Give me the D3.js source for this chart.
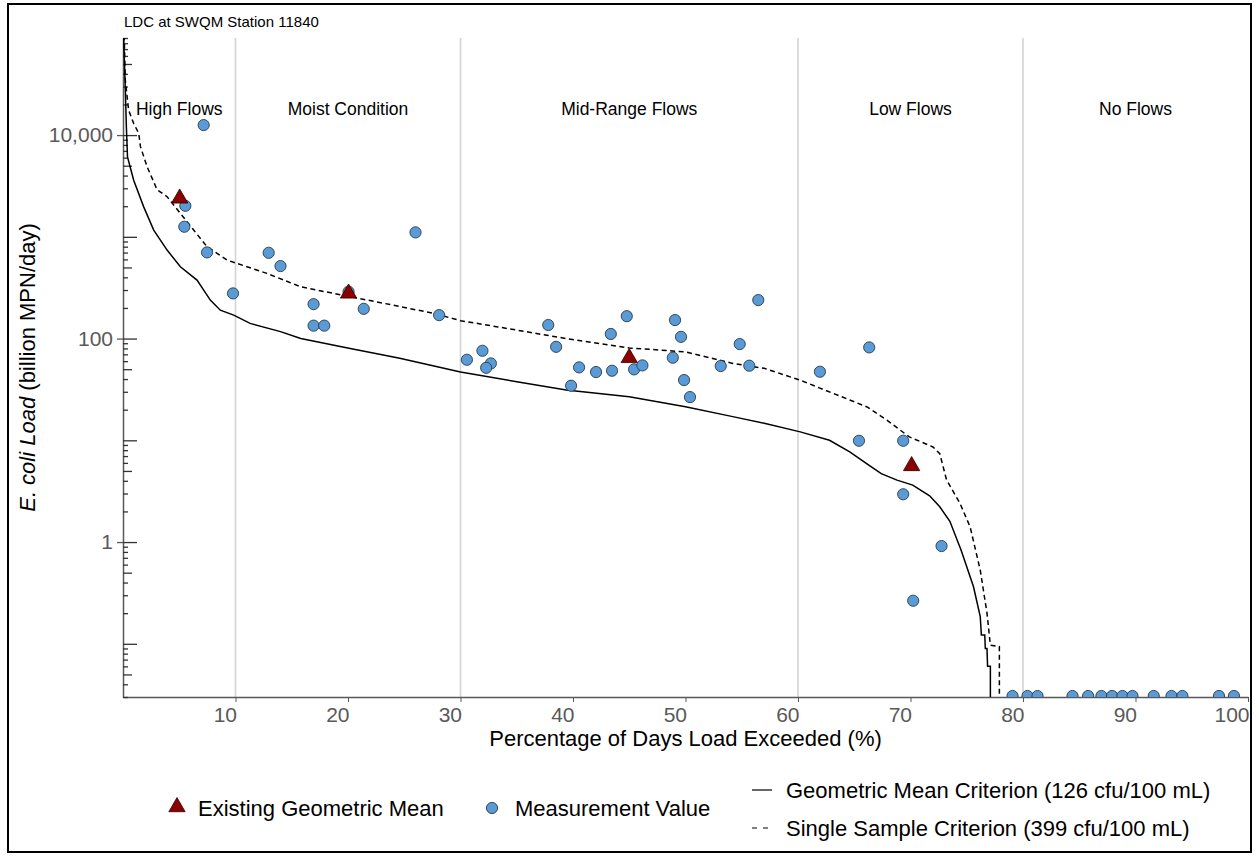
<!DOCTYPE html>
<html>
<head>
<meta charset="utf-8">
<script src="https://cdn.jsdelivr.net/npm/d3@7"></script>
<style>
body { margin: 0; background: #fff; }
text { font-family: "Liberation Sans", Arial, sans-serif; }
</style>
</head>
<body>
<div id="cont"></div>
<script>
// Data: [percent of days exceeded, load in billion MPN/day]
var geoMeanCurve = [
    [0.02, 120000], [0.2, 30000], [0.3, 12000], [0.4, 6100], [0.95, 3600], [1.84, 1970],
    [2.73, 1165], [3.92, 741], [5.1, 508], [6.58, 376], [7.76, 239], [8.65, 190],
    [9.84, 170], [11.3, 141], [14.0, 117], [15.8, 100], [20.2, 80], [24.6, 64],
    [30, 47], [35, 37.6], [39.4, 31.2], [45, 26.8], [50, 21.4], [54.2, 17.1],
    [57, 14.7], [60.2, 12.1], [62.8, 10], [64.6, 7.7], [66.1, 5.9], [67.4, 4.7],
    [68.8, 4.06], [70.2, 3.63], [71.7, 2.85], [72.6, 2.22], [73.5, 1.6], [74.5, 0.83],
    [75.0, 0.571], [75.6, 0.364], [76.2, 0.185], [76.3, 0.122], [76.6, 0.122],
    [76.65, 0.09], [76.8, 0.09], [76.85, 0.06], [77.1, 0.06], [77.1, 0]
];
var singleSampleCurve = [
    [0.02, 250000], [0.2, 35000], [0.5, 17600], [0.95, 13000], [1.4, 10400], [1.55, 7700],
    [2.14, 4900], [3.03, 2900], [3.92, 2480], [5.1, 1700], [6.28, 1165], [7.47, 800],
    [9.25, 590], [12.8, 437], [15.8, 323], [18.7, 278], [23.2, 222], [27.6, 177],
    [30, 150], [33.2, 131], [39.4, 100], [45, 81], [50, 74], [54.2, 57], [57, 51],
    [60.2, 39], [63.1, 29], [66.1, 21.4], [67.9, 15.8], [69.9, 10.8], [72.0, 8.6],
    [72.6, 7.4], [73.2, 4.1], [74.4, 2.4], [75.3, 1.41], [76.2, 0.53], [76.8, 0.2],
    [77.1, 0.097], [77.9, 0.094], [77.9, 0]
];
var measurements = [
    [5.54, 2018], [5.45, 1256], [7.17, 12540], [7.47, 703], [9.78, 278], [12.95, 697],
    [14.0, 516], [16.94, 218], [16.94, 134], [17.89, 134], [20.05, 289], [21.4, 196],
    [26.0, 1106], [28.1, 170], [30.57, 61.9], [31.95, 75.9], [32.7, 57], [32.28, 51.6],
    [37.8, 136], [38.5, 83], [39.83, 34.4], [40.54, 52.1], [42.05, 46.9], [43.36, 111],
    [43.47, 48.3], [44.78, 166], [45.43, 49.8], [46.17, 54.5], [48.87, 64.9], [49.07, 152],
    [49.6, 104], [49.87, 39.1], [50.4, 26.6], [53.13, 53.7], [54.82, 88.3], [55.67, 54.1],
    [56.47, 239], [61.95, 47.2], [66.33, 81.9], [65.42, 9.9], [69.35, 9.9], [69.35, 2.95],
    [72.76, 0.914], [70.24, 0.265],
    [79.07, 0], [80.4, 0], [81.29, 0], [84.4, 0], [85.79, 0], [86.97, 0], [87.92, 0],
    [88.84, 0], [89.73, 0], [91.62, 0], [93.2, 0], [94.17, 0], [97.42, 0], [98.75, 0]
];
var existingGeoMeans = [[5.04, 2388], [20.05, 278], [45.0, 64.6], [70.1, 5.6]];

var regimes = ["High Flows", "Moist Condition", "Mid-Range Flows", "Low Flows", "No Flows"];
var regimeBreaks = [0, 10, 30, 60, 80, 100];
var xTicks = [10, 20, 30, 40, 50, 60, 70, 80, 90, 100];
var yLabelTicks = [1, 100, 10000];

var chartTitle = "LDC at SWQM Station 11840";
var xTitle = "Percentage of Days Load Exceeded (%)";
var legendGeoMean = "Existing Geometric Mean";
var legendMeasure = "Measurement Value";
var legendGeoCrit = "Geometric Mean Criterion (126 cfu/100 mL)";
var legendSingleCrit = "Single Sample Criterion (399 cfu/100 mL)";

// Layout (pTop etc. - "top" is taken by window.top)
var W = 1259, H = 856;
var pLeft = 123, pRight = 1248, pTop = 38, pBottom = 697;
var axisCol = "#595959";

var svg = d3.select("#cont").append("svg")
    .attr("width", W)
    .attr("height", H);

// outer frame
svg.append("rect")
    .attr("x", 8).attr("y", 4)
    .attr("width", 1243).attr("height", 848)
    .attr("fill", "none")
    .attr("stroke", "black")
    .attr("stroke-width", 2);

var x = d3.scaleLinear().domain([0, 100]).range([pLeft, pRight]);
var y = d3.scaleLog().domain([0.03, 90000]).range([pBottom, pTop]);

var yv = function(v) { return v > 0 ? y(v) : pBottom + 3; };

svg.append("clipPath").attr("id", "plotclip")
    .append("rect")
    .attr("x", pLeft).attr("y", pTop)
    .attr("width", pRight - pLeft).attr("height", pBottom - pTop);

// regime separators
svg.append("g").selectAll("line")
    .data(regimeBreaks.slice(1, -1))
    .join("line")
    .attr("x1", function(d) { return x(d); })
    .attr("x2", function(d) { return x(d); })
    .attr("y1", pTop).attr("y2", pBottom)
    .attr("stroke", "#d4d4d4")
    .attr("stroke-width", 1.6);

svg.append("g").selectAll("text")
    .data(regimes)
    .join("text")
    .attr("x", function(d, i) { return x((regimeBreaks[i] + regimeBreaks[i + 1]) / 2); })
    .attr("y", 115)
    .attr("text-anchor", "middle")
    .attr("font-size", "17.5px")
    .text(function(d) { return d; });

// x axis
var xAxis = svg.append("g")
    .attr("transform", "translate(0," + pBottom + ")")
    .call(d3.axisBottom(x).tickValues(xTicks).tickSize(5).tickSizeOuter(0).tickPadding(5));
xAxis.select(".domain").attr("stroke", axisCol).attr("stroke-width", 1.5);
xAxis.selectAll(".tick line").attr("stroke", axisCol);
xAxis.selectAll(".tick text")
    .attr("fill", axisCol)
    .attr("font-size", "21px")
    .attr("font-family", "Liberation Sans, Arial, sans-serif")
    .attr("text-anchor", "end")
    .attr("dx", "1");

// y axis: inside ticks for every decade step, labels on 1, 100, 10,000
var minorVals = [];
for (var k = -2; k <= 4; k++) {
    for (var m = 1; m <= 9; m++) {
        var v = m * Math.pow(10, k);
        if (v >= 0.03 && v <= 90000) minorVals.push(v);
    }
}
var yIn = svg.append("g")
    .attr("transform", "translate(" + pLeft + ",0)")
    .call(d3.axisRight(y).tickValues(minorVals).tickFormat("").tickSizeOuter(0));
yIn.select(".domain").attr("stroke", axisCol).attr("stroke-width", 1.5);
yIn.selectAll(".tick line")
    .attr("stroke", "#333")
    .attr("stroke-width", 1.3)
    .attr("x2", function(d) {
        var lead = Math.round(d / Math.pow(10, Math.floor(Math.log10(d) + 1e-9)));
        if (lead === 1) return 14;
        if (lead === 5) return 9;
        return 5;
    });

var yOut = svg.append("g")
    .attr("transform", "translate(" + pLeft + ",0)")
    .call(d3.axisLeft(y).tickValues(yLabelTicks).tickFormat(d3.format(",")).tickSize(6).tickPadding(4));
yOut.select(".domain").remove();
yOut.selectAll(".tick line").attr("stroke", axisCol).attr("stroke-width", 1.3);
yOut.selectAll(".tick text")
    .attr("fill", axisCol)
    .attr("font-size", "21px")
    .attr("font-family", "Liberation Sans, Arial, sans-serif");

// curves
var plot = svg.append("g").attr("clip-path", "url(#plotclip)");

var curve = d3.line()
    .x(function(d) { return x(d[0]); })
    .y(function(d) { return yv(d[1]); });

plot.append("path")
    .datum(geoMeanCurve)
    .attr("d", curve)
    .attr("fill", "none")
    .attr("stroke", "black")
    .attr("stroke-width", 1.5);

plot.append("path")
    .datum(singleSampleCurve)
    .attr("d", curve)
    .attr("fill", "none")
    .attr("stroke", "black")
    .attr("stroke-width", 1.5)
    .attr("stroke-dasharray", "5,3.5");

// points
plot.append("g").selectAll("circle")
    .data(measurements)
    .join("circle")
    .attr("cx", function(d) { return x(d[0]); })
    .attr("cy", function(d) { return d[1] > 0 ? y(d[1]) : pBottom - 1; })
    .attr("r", 5.6)
    .attr("fill", "#5b9bd5")
    .attr("stroke", "#263a4f")
    .attr("stroke-width", 0.9);

var tri = d3.symbol().type(d3.symbolTriangle).size(115);
plot.append("g").selectAll("path")
    .data(existingGeoMeans)
    .join("path")
    .attr("d", tri)
    .attr("transform", function(d) { return "translate(" + x(d[0]) + "," + y(d[1]) + ")"; })
    .attr("fill", "#8b0000")
    .attr("stroke", "#2b0000")
    .attr("stroke-width", 0.8);

// titles
svg.append("text")
    .attr("x", 124).attr("y", 27)
    .attr("font-size", "15px")
    .text(chartTitle);

svg.append("text")
    .attr("x", (pLeft + pRight) / 2).attr("y", 746)
    .attr("text-anchor", "middle")
    .attr("font-size", "22px")
    .text(xTitle);

var yt = svg.append("text")
    .attr("transform", "translate(35," + ((pTop + pBottom) / 2) + ") rotate(-90)")
    .attr("text-anchor", "middle")
    .attr("font-size", "22px");
yt.append("tspan").attr("font-style", "italic").text("E. coli Load");
yt.append("tspan").text(" (billion MPN/day)");

// legend
var lg = svg.append("g").attr("font-size", "22px");
lg.append("path")
    .attr("d", tri)
    .attr("transform", "translate(177,807)")
    .attr("fill", "#8b0000")
    .attr("stroke", "#2b0000")
    .attr("stroke-width", 0.8);
lg.append("text").attr("x", 198).attr("y", 816).text(legendGeoMean);

lg.append("circle")
    .attr("cx", 492).attr("cy", 808).attr("r", 5.6)
    .attr("fill", "#5b9bd5")
    .attr("stroke", "#263a4f")
    .attr("stroke-width", 0.9);
lg.append("text").attr("x", 515).attr("y", 816).text(legendMeasure);

lg.append("line")
    .attr("x1", 752).attr("x2", 772).attr("y1", 790).attr("y2", 790)
    .attr("stroke", "black").attr("stroke-width", 1.2);
lg.append("text").attr("x", 786).attr("y", 798).text(legendGeoCrit);

lg.append("line")
    .attr("x1", 752).attr("x2", 772).attr("y1", 828).attr("y2", 828)
    .attr("stroke", "black").attr("stroke-width", 1.2)
    .attr("stroke-dasharray", "5,6");
lg.append("text").attr("x", 786).attr("y", 836).text(legendSingleCrit);
</script>
</body>
</html>
